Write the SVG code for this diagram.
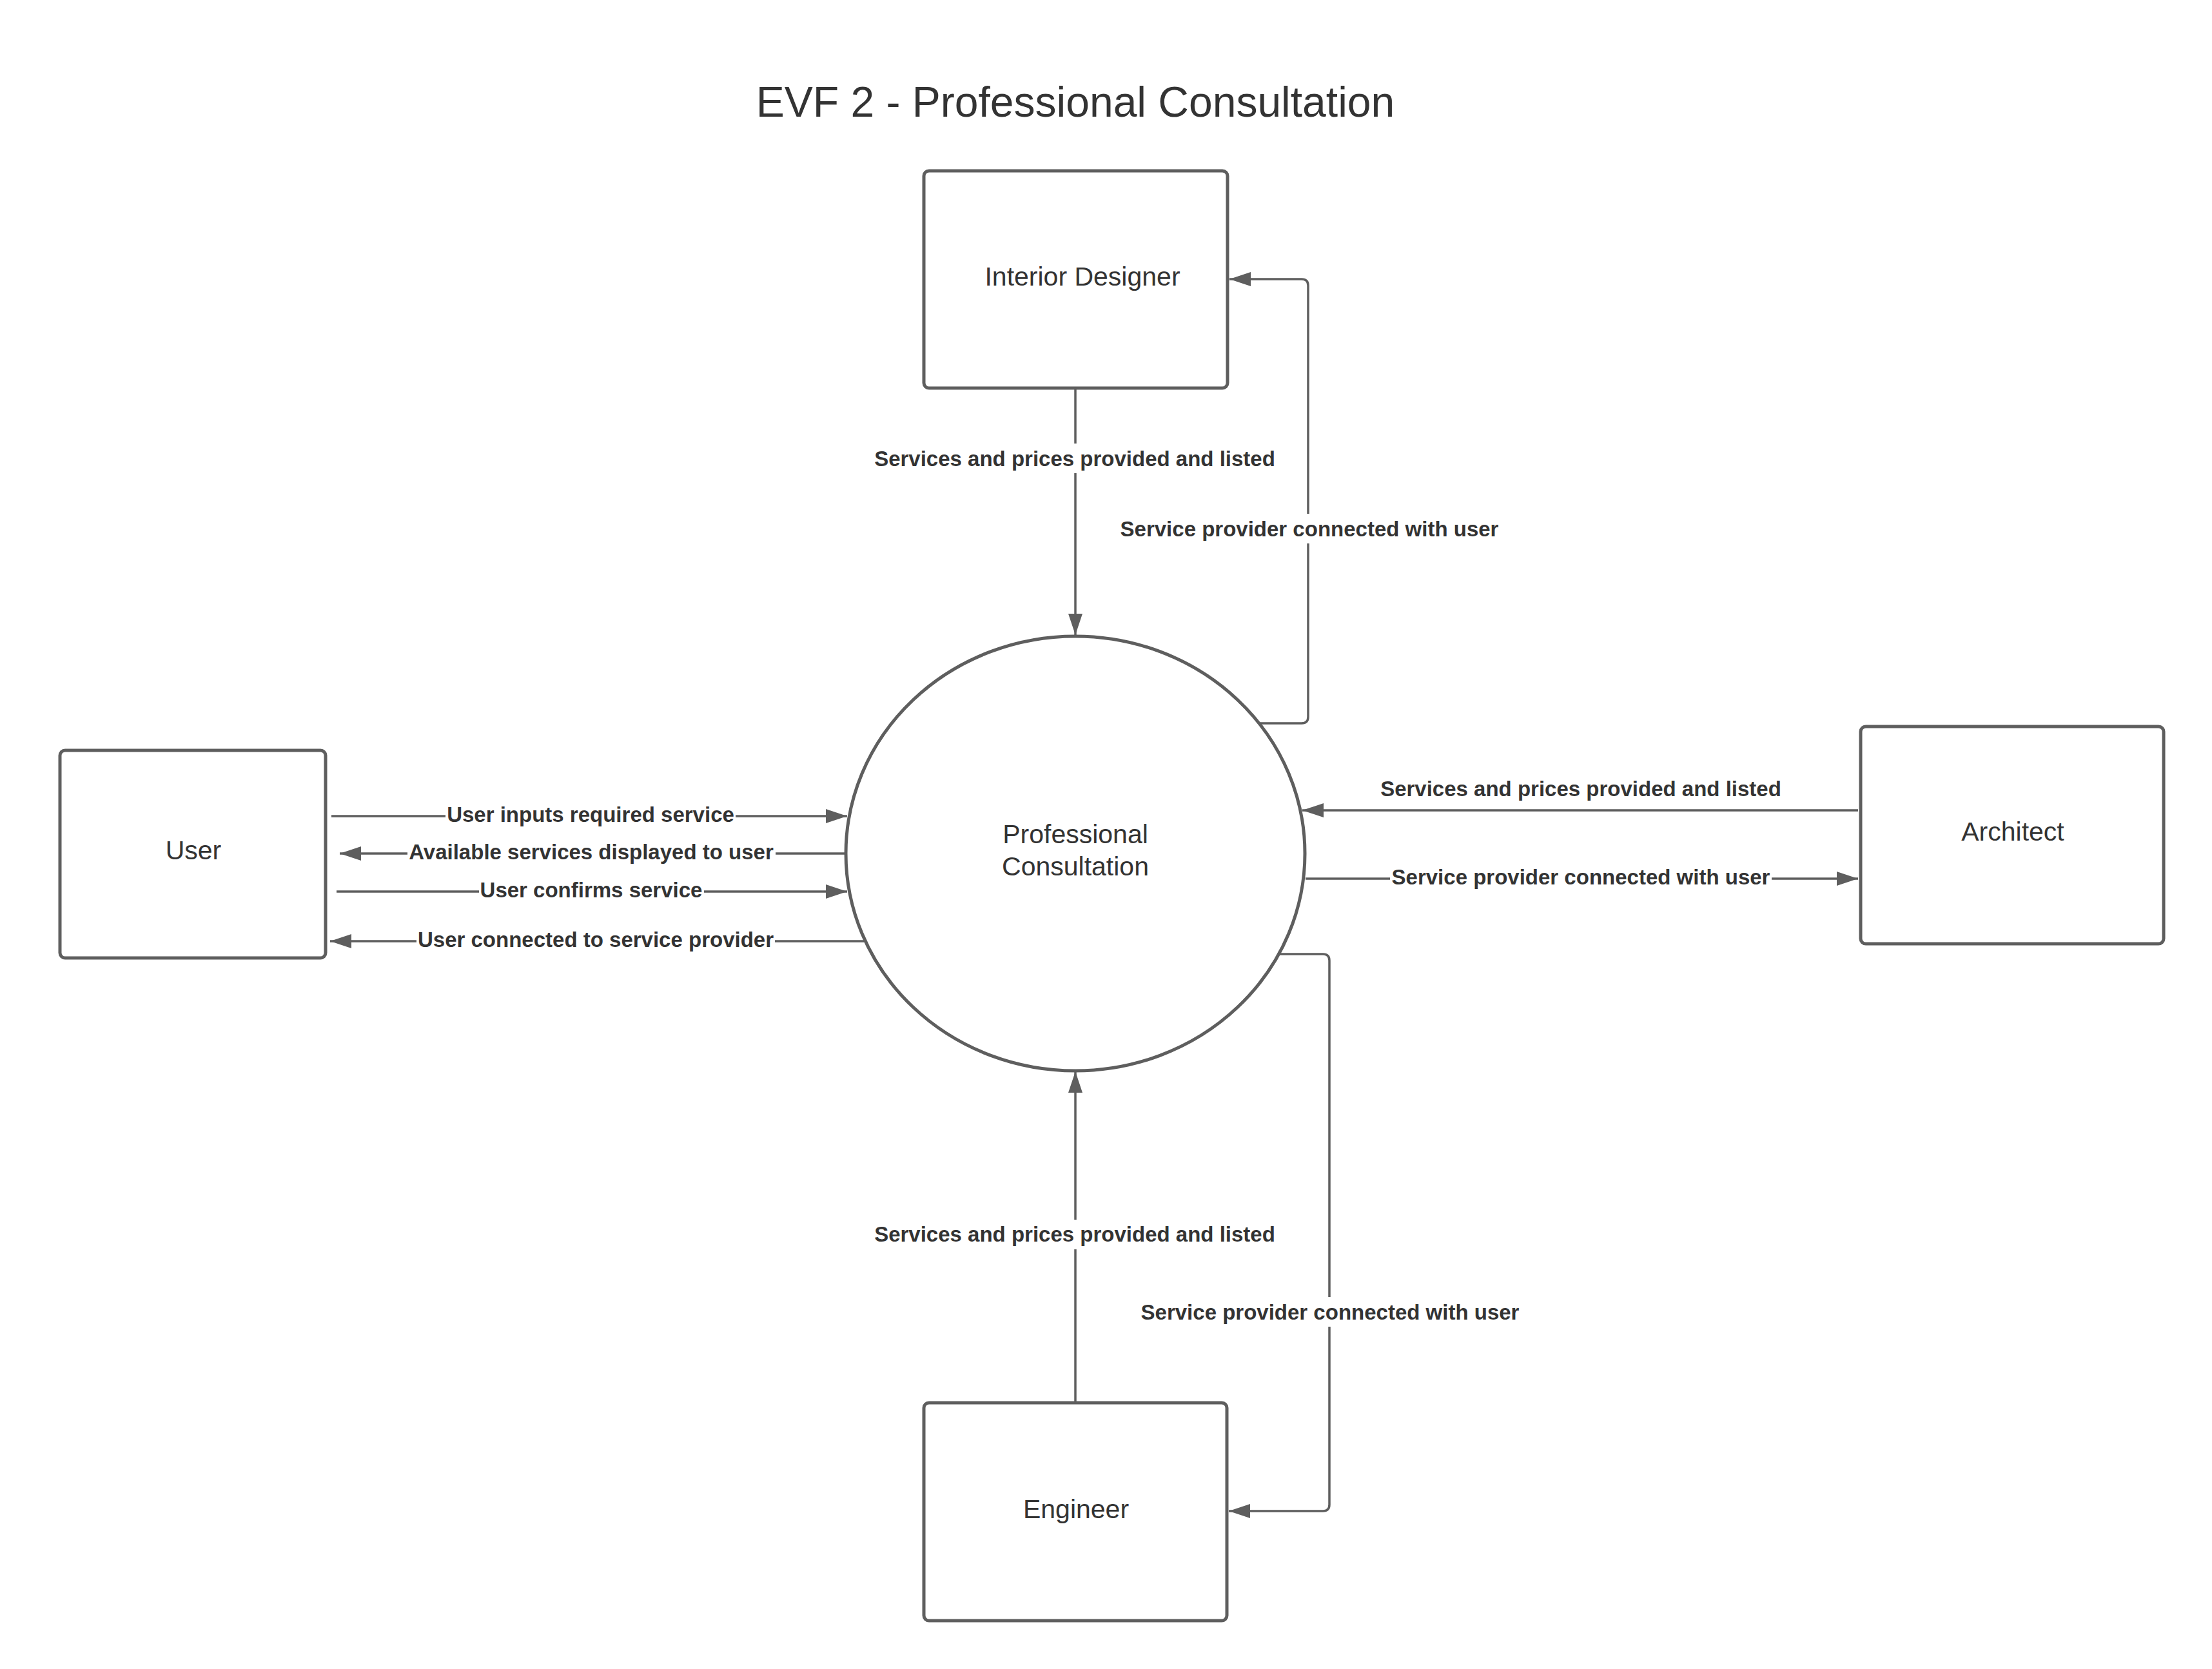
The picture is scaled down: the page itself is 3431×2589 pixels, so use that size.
<svg xmlns="http://www.w3.org/2000/svg" width="3431" height="2589" viewBox="0 0 3431 2589">
<style>
.box{fill:#fff;stroke:#5e5e5e;stroke-width:5}
.ln{fill:none;stroke:#5e5e5e;stroke-width:3.5}
.nt{font-family:"Liberation Sans",Arial,sans-serif;font-size:41px;fill:#333;text-anchor:middle}
.lb{font-family:"Liberation Sans",Arial,sans-serif;font-size:33px;font-weight:bold;fill:#333;text-anchor:middle}
.bg{fill:#fff}
</style>
<defs>
<marker id="ah" viewBox="0 0 33 22" refX="33" refY="11" markerWidth="33" markerHeight="22" markerUnits="userSpaceOnUse" orient="auto">
<path d="M0,0 L33,11 L0,22 Z" fill="#5e5e5e"/>
</marker>
</defs>
<rect width="3431" height="2589" fill="#fff"/>
<text x="1668" y="181" style="font-family:'Liberation Sans',Arial,sans-serif;font-size:66px;fill:#333;text-anchor:middle">EVF 2 - Professional Consultation</text>

<g id="connectors">
<g id="c-id-pc">
<path class="ln" d="M1668,602 V985" marker-end="url(#ah)"/>
<rect class="bg" x="1354" y="688" width="626" height="46"/>
<text class="lb" x="1667" y="723">Services and prices provided and listed</text>
</g>
<g id="c-pc-id">
<path class="ln" d="M1953,1122 H2019 Q2029,1122 2029,1112 V443 Q2029,433 2019,433 H1907" marker-end="url(#ah)"/>
<rect class="bg" x="1735" y="797" width="592" height="46"/>
<text class="lb" x="2031" y="832">Service provider connected with user</text>
</g>
<g id="c-eng-pc">
<path class="ln" d="M1668,2176 V1662" marker-end="url(#ah)"/>
<rect class="bg" x="1354" y="1892" width="626" height="46"/>
<text class="lb" x="1667" y="1926">Services and prices provided and listed</text>
</g>
<g id="c-pc-eng">
<path class="ln" d="M1984,1480 H2052 Q2062,1480 2062,1490 V2334 Q2062,2344 2052,2344 H1906" marker-end="url(#ah)"/>
<rect class="bg" x="1767" y="2012" width="592" height="46"/>
<text class="lb" x="2063" y="2047">Service provider connected with user</text>
</g>
<g id="c-arch-pc">
<path class="ln" d="M2882,1257 H2020" marker-end="url(#ah)"/>
<text class="lb" x="2452" y="1235">Services and prices provided and listed</text>
</g>
<g id="c-pc-arch">
<path class="ln" d="M2025,1363 H2882" marker-end="url(#ah)"/>
<rect class="bg" x="2156" y="1340" width="592" height="46"/>
<text class="lb" x="2452" y="1372">Service provider connected with user</text>
</g>
<g id="c-user-pc-1">
<path class="ln" d="M514,1266 H1314" marker-end="url(#ah)"/>
<rect class="bg" x="691" y="1244" width="450" height="44"/>
<text class="lb" x="916" y="1275">User inputs required service</text>
</g>
<g id="c-pc-user-1">
<path class="ln" d="M1311,1324 H527" marker-end="url(#ah)"/>
<rect class="bg" x="632" y="1302" width="571" height="44"/>
<text class="lb" x="917" y="1333">Available services displayed to user</text>
</g>
<g id="c-user-pc-2">
<path class="ln" d="M522,1383 H1314" marker-end="url(#ah)"/>
<rect class="bg" x="743" y="1361" width="349" height="44"/>
<text class="lb" x="917" y="1392">User confirms service</text>
</g>
<g id="c-pc-user-2">
<path class="ln" d="M1341,1460 H512" marker-end="url(#ah)"/>
<rect class="bg" x="646" y="1438" width="556" height="44"/>
<text class="lb" x="924" y="1469">User connected to service provider</text>
</g>
</g>

<g id="node-interior-designer">
<rect class="box" x="1433" y="265" width="471" height="337" rx="8"/>
<text class="nt" x="1679" y="443">Interior Designer</text>
</g>
<g id="node-professional-consultation">
<ellipse class="box" cx="1668" cy="1324" rx="356" ry="337"/>
<text class="nt" x="1668" y="1308">Professional</text>
<text class="nt" x="1668" y="1358">Consultation</text>
</g>
<g id="node-user">
<rect class="box" x="93" y="1164" width="412" height="322" rx="8"/>
<text class="nt" x="300" y="1333">User</text>
</g>
<g id="node-architect">
<rect class="box" x="2886" y="1127" width="470" height="337" rx="8"/>
<text class="nt" x="3122" y="1304">Architect</text>
</g>
<g id="node-engineer">
<rect class="box" x="1433" y="2176" width="470" height="338" rx="8"/>
<text class="nt" x="1669" y="2355">Engineer</text>
</g>
</svg>
